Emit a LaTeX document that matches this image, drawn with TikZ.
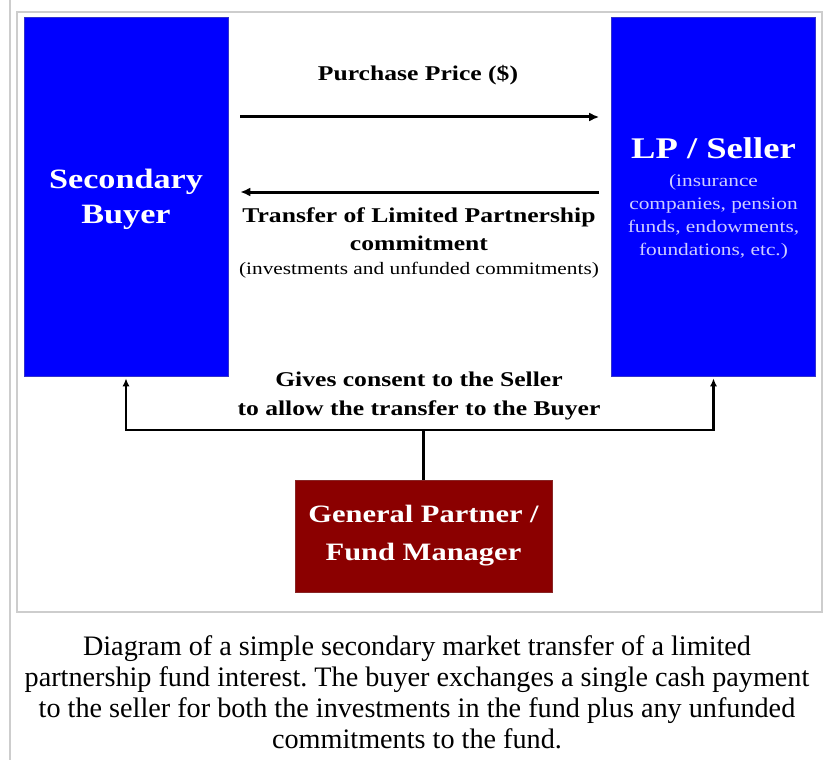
\documentclass[tikz,border=0pt]{standalone}
\usepackage{fontspec}
\setmainfont{Liberation Serif}
\newfontfamily\diagfont[FakeStretch=1.22]{Liberation Serif}
\usetikzlibrary{arrows.meta}
\definecolor{gpred}{RGB}{139,0,0}
\definecolor{notelav}{RGB}{205,205,255}
\definecolor{framegrey}{RGB}{205,205,205}
\tikzstyle{party}=[fill=blue, draw=blue!60!gray, line width=0.6pt, inner sep=0pt, minimum width=204pt, minimum height=359pt]
\tikzstyle{gpbox}=[fill=gpred, draw=gpred!70!gray, line width=0.6pt, inner sep=0pt, minimum width=257pt, minimum height=112pt, text=white, align=center, font=\diagfont\fontsize{25}{38}\selectfont\bfseries]
\tikzstyle{boxhead}=[text=white, align=center, inner sep=0pt]
\tikzstyle{lbl}=[align=center, inner sep=0pt, font=\diagfont\fontsize{21}{28}\selectfont\bfseries]
\tikzstyle{note}=[align=center, inner sep=0pt, font=\diagfont\fontsize{17.5}{23}\selectfont]
\tikzstyle{flow}=[draw=black, line width=3pt, -{Latex[length=10pt,width=9pt]}]
\tikzstyle{consent}=[draw=black, line width=2.8pt, -{Latex[length=8pt,width=7pt]}]

\begin{document}
\begin{tikzpicture}[x=1pt,y=-1pt]
\useasboundingbox (0,0) rectangle (823,760);
\draw[framegrey, line width=1.2pt] (10,0) -- (10,760);
\draw[framegrey, line width=1.5pt] (17,12) rectangle (822,612);
\node[party] (buyer) at (126,196.5) {};
\node[party] (seller) at (713.5,196.5) {};
\node[boxhead, font=\diagfont\fontsize{28}{35}\selectfont\bfseries] (buyername) at (126,199) {Secondary\\Buyer};
\node[boxhead, font=\diagfont\fontsize{30}{34}\selectfont\bfseries] (sellername) at (713.5,148) {LP / Seller};
\node[note, text=notelav] (sellernote) at (713.5,216.5) {(insurance\\companies, pension\\funds, endowments,\\foundations, etc.)};
\node[lbl] (pricelbl) at (418,75) {Purchase Price (\$)};
\node[lbl] (transferlbl) at (419,229) {Transfer of Limited Partnership\\commitment};
\node[note] (transfernote) at (419,270) {(investments and unfunded commitments)};
\node[lbl, font=\diagfont\fontsize{21}{29}\selectfont\bfseries] (consentlbl) at (419,395.5) {Gives consent to the Seller\\to allow the transfer to the Buyer};
\node[gpbox] (gp) at (423.5,536) {General Partner /\\Fund Manager};
\coordinate (split) at (423.5,430);
\draw[flow] ([xshift=12pt,yshift=79.5pt]buyer.east) -- ([xshift=-12pt,yshift=79.5pt]seller.west);
\draw[flow] ([xshift=-12pt,yshift=4.5pt]seller.west) -- ([xshift=12pt,yshift=4.5pt]buyer.east);
\draw[line width=2.8pt] (gp.north) -- (split);
\draw[consent] (split) -| ([yshift=-2pt]buyer.south);
\draw[consent] (split) -| ([yshift=-2pt]seller.south);
\node[align=center, inner sep=0pt, font=\frenchspacing\fontsize{28.2}{31}\selectfont] (caption) at (417,692) {Diagram of a simple secondary market transfer of a limited\\partnership fund interest. The buyer exchanges a single cash payment\\to the seller for both the investments in the fund plus any unfunded\\commitments to the fund.};
\end{tikzpicture}
\end{document}
